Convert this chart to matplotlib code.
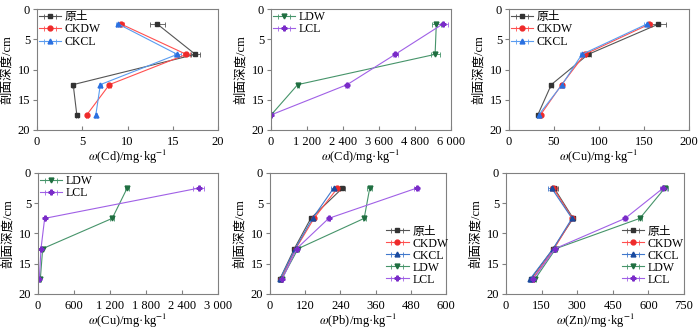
import matplotlib
matplotlib.use("Agg")
import matplotlib.pyplot as plt
from matplotlib.ticker import FuncFormatter

plt.rcParams['font.family'] = ['Liberation Serif', 'Noto Sans CJK SC']
plt.rcParams['mathtext.fontset'] = 'stix'
plt.rcParams['font.size'] = 9

depth = [2.5, 7.5, 12.5, 17.5]

# Cd, control soils
cd_yt = [13.3, 17.5, 4.0, 4.4]
cd_ckdw = [9.3, 16.5, 8.0, 5.5]
cd_ckcl = [9.0, 15.5, 7.0, 6.5]
cd_yt_err = [0.8, 0.5, 0.1, 0.1]
cd_ckdw_err = [0.3, 0.4, 0.2, 0.1]
cd_ckcl_err = [0.3, 0.4, 0.2, 0.1]

# Cd, leached soils
cd_ldw = [5510, 5470, 890, 5]
cd_lcl = [5720, 4140, 2540, 5]
cd_ldw_err = [150, 150, 40, 0]
cd_lcl_err = [180, 80, 60, 0]

# Cu, control soils
cu_yt = [166, 88, 47, 32]
cu_ckdw = [156, 84, 58.5, 35]
cu_ckcl = [153, 81, 59, 33]
cu_yt_err = [8, 3, 2, 1]
cu_ckdw_err = [3, 2, 2, 1]
cu_ckcl_err = [3, 2, 2, 1]

# Cu, leached soils
cu_ldw = [1486, 1237, 78, 39]
cu_lcl = [2679, 111, 50, 22]
cu_ldw_err = [30, 30, 10, 5]
cu_lcl_err = [90, 10, 5, 5]

# Pb
pb_yt = [247, 139, 83, 34]
pb_ckdw = [230, 150, 88, 37]
pb_ckcl = [217, 145, 86, 34]
pb_ldw = [340, 321, 96, 40]
pb_lcl = [500, 200, 91, 42]
pb_err = [8, 5, 3, 2]

# Zn
zn_yt = [203, 283, 199, 105]
zn_ckdw = [199, 280, 203, 112]
zn_ckcl = [192, 278, 199, 102]
zn_ldw = [669, 564, 210, 123]
zn_lcl = [662, 502, 207, 115]
zn_err = [15, 8, 5, 5]

styles = {
    '原土': dict(color='#555555', marker='s', mfc='#333333', mec='#333333'),
    'CKDW': dict(color='#ff5050', marker='o', mfc='#ee2a2a', mec='#ee2a2a'),
    'CKCL': dict(color='#5a9cf0', marker='^', mfc='#2a70e0', mec='#2a70e0'),
    'LDW': dict(color='#46946a', marker='v', mfc='#1f6e40', mec='#1f6e40'),
    'LCL': dict(color='#a060e6', marker='P', mfc='#7a2cc8', mec='#7a2cc8'),
}
dark_ckcl = dict(color='#4078cc', marker='^', mfc='#1a4a9e', mec='#1a4a9e')

W, H = 700, 329
fig = plt.figure(figsize=(7, 3.29), dpi=100)


def make_ax(x0, x1, y0, y1):
    return fig.add_axes([x0 / W, 1 - y1 / H, (x1 - x0) / W, (y1 - y0) / H])


def thousands(v, pos):
    v = int(round(v))
    if v >= 1000:
        return '%d %03d' % (v // 1000, v % 1000)
    return str(v)


def draw(ax, series, xmax, xstep, elem, legend_pos, sep=False):
    for name, vals, err, st in series:
        ax.errorbar(vals, depth, xerr=err, label=name, lw=0.8, ms=3.5,
                    capsize=1.8, elinewidth=0.6, ecolor=st['color'],
                    capthick=0.6, **st)
    ax.set_xlim(0, xmax)
    ax.set_ylim(20, 0)
    ax.set_xticks([i * xstep for i in range(int(round(xmax / xstep)) + 1)])
    ax.set_yticks([0, 5, 10, 15, 20])
    if sep:
        ax.xaxis.set_major_formatter(FuncFormatter(thousands))
    ax.tick_params(axis='x', direction='in', length=3, color='#808080', pad=4)
    ax.tick_params(axis='y', direction='out', length=3, color='#808080', pad=2)
    for s in ax.spines.values():
        s.set_color('#808080')
        s.set_linewidth(0.8)
    ax.set_xlabel(r'$\omega$(' + elem + ')/mg·kg$^{-1}$', labelpad=0)
    ax.set_ylabel('剖面深度/cm', labelpad=3)
    if legend_pos == 'upper left':
        ax.legend(loc='upper left', frameon=False, handlelength=1.9,
                  handletextpad=0.3, labelspacing=0.05, borderaxespad=0.05,
                  borderpad=0.1, fontsize=8.5)
    else:
        ax.legend(loc='lower left', bbox_to_anchor=legend_pos, frameon=False,
                  handlelength=1.9, handletextpad=0.3, labelspacing=0.0,
                  borderaxespad=0, borderpad=0, fontsize=8.5)


ax1 = make_ax(37, 218, 9, 130)
draw(ax1, [('原土', cd_yt, cd_yt_err, styles['原土']),
           ('CKDW', cd_ckdw, cd_ckdw_err, styles['CKDW']),
           ('CKCL', cd_ckcl, cd_ckcl_err, styles['CKCL'])],
     20, 5, 'Cd', 'upper left')

ax2 = make_ax(271, 451, 9, 130)
draw(ax2, [('LDW', cd_ldw, cd_ldw_err, styles['LDW']),
           ('LCL', cd_lcl, cd_lcl_err, styles['LCL'])],
     6000, 1200, 'Cd', 'upper left', sep=True)

ax3 = make_ax(509, 689, 9, 130)
draw(ax3, [('原土', cu_yt, cu_yt_err, styles['原土']),
           ('CKDW', cu_ckdw, cu_ckdw_err, styles['CKDW']),
           ('CKCL', cu_ckcl, cu_ckcl_err, styles['CKCL'])],
     200, 50, 'Cu', 'upper left')

ax4 = make_ax(38, 218, 173, 294)
draw(ax4, [('LDW', cu_ldw, cu_ldw_err, styles['LDW']),
           ('LCL', cu_lcl, cu_lcl_err, styles['LCL'])],
     3000, 600, 'Cu', 'upper left', sep=True)

ax5 = make_ax(270, 446, 173, 294)
draw(ax5, [('原土', pb_yt, pb_err, styles['原土']),
           ('CKDW', pb_ckdw, pb_err, styles['CKDW']),
           ('CKCL', pb_ckcl, pb_err, dark_ckcl),
           ('LDW', pb_ldw, pb_err, styles['LDW']),
           ('LCL', pb_lcl, pb_err, styles['LCL'])],
     600, 120, 'Pb', (0.66, 0.07))

ax6 = make_ax(506, 684, 173, 294)
draw(ax6, [('原土', zn_yt, zn_err, styles['原土']),
           ('CKDW', zn_ckdw, zn_err, styles['CKDW']),
           ('CKCL', zn_ckcl, zn_err, dark_ckcl),
           ('LDW', zn_ldw, zn_err, styles['LDW']),
           ('LCL', zn_lcl, zn_err, styles['LCL'])],
     750, 150, 'Zn', (0.65, 0.07))

fig.savefig('out.png', dpi=100)
